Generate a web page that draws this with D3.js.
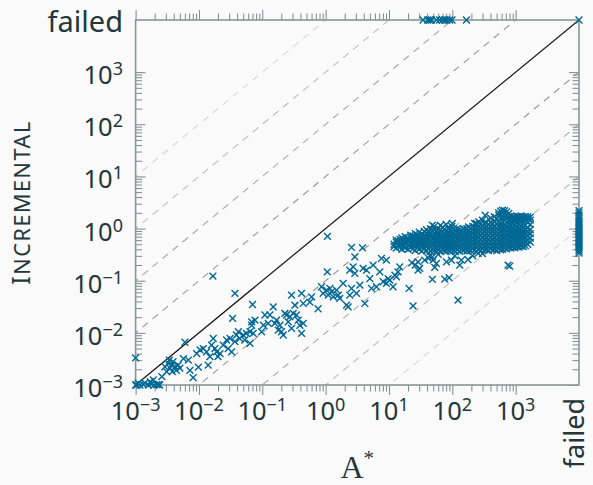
<!DOCTYPE html>
<html><head><meta charset="utf-8">
<script src="https://cdn.jsdelivr.net/npm/d3@7"></script>
<style>
html,body{margin:0;padding:0;background:#fafafa;}
svg{display:block;}
</style></head><body>
<svg id="chart" width="593" height="485"></svg>
<script>
// ---------- data ----------
const FAILED = "failed";
const majorTicks = [1e-3, 1e-2, 1e-1, 1, 10, 100, 1000];
const tickExponents = ["−3", "−2", "−1", "0", "1", "2", "3"];
const failLabel = "failed";
const xLabelBase = "A", xLabelSup = "*";
const yLabelFirst = "I", yLabelRest = "NCREMENTAL";
const guideFactors = [1e-4, 1e-3, 1e-2, 1e-1, 10, 100, 1000, 1e4];

// [A* time, Incremental time] for instances solved by both
const solvedPoints = [
  [0.001,0.001],[0.00104,0.001],[0.00117,0.001],[0.00132,0.00102],[0.00159,0.001],[0.0018,0.00105],[0.00195,0.001],
  [0.00215,0.00102],[0.0024,0.001],[0.0017,0.00116],[0.0019,0.00125],[0.0023,0.00102],[0.0026,0.00145],[0.0011,0.00108],
  [0.0014,0.0011],[0.001,0.0033],
  [0.0029,0.00224],[0.0033,0.0026],[0.0035,0.0021],[0.0037,0.0024],[0.0039,0.0028],[0.0042,0.00224],[0.0044,0.0019],
  [0.0047,0.0024],[0.005,0.0021],[0.0038,0.0018],[0.0031,0.0018],[0.0034,0.003],[0.0057,0.0032],[0.0068,0.003],
  [0.0072,0.0019],[0.0098,0.0022],[0.0092,0.004],[0.0104,0.0047],[0.0117,0.005],[0.0132,0.0043],[0.014,0.0024],
  [0.0149,0.0035],[0.0158,0.0058],[0.0168,0.0078],[0.0179,0.005],[0.019,0.0043],[0.02,0.0035],[0.0215,0.004],
  [0.0242,0.0058],[0.0273,0.0073],[0.029,0.005],[0.031,0.0078],[0.0328,0.0043],[0.037,0.0068],[0.039,0.0091],
  [0.042,0.0105],[0.044,0.0078],[0.05,0.0091],[0.053,0.0073],[0.056,0.0098],[0.064,0.0105],[0.068,0.014],
  [0.064,0.0063],[0.072,0.0098],[0.0766,0.0176],[0.068,0.0163],[0.0975,0.0105],[0.104,0.014],[0.11,0.022],
  [0.124,0.0152],[0.132,0.022],[0.149,0.0316],[0.158,0.0152],[0.168,0.0176],[0.179,0.0113],[0.19,0.014],
  [0.201,0.0105],[0.214,0.0091],[0.227,0.0236],[0.242,0.022],[0.257,0.0163],[0.273,0.0204],[0.29,0.0122],
  [0.308,0.0236],[0.327,0.034],[0.347,0.022],[0.369,0.0176],[0.392,0.014],[0.417,0.0098],[0.443,0.0152],
  [0.29,0.053],[0.417,0.057],[0.6,0.049],[0.443,0.0366],[0.564,0.039],[0.76,0.029],[0.86,0.0766],[0.914,0.057],
  [1.03,0.066],[1.1,0.053],[1.17,0.071],[1.24,0.061],[1.32,0.049],[1.49,0.066],[1.58,0.053],[1.67,0.046],
  [1.89,0.089],[2.14,0.034],[2.27,0.0316],[2.41,0.053],[2.56,0.071],[2.72,0.185],[2.41,0.16],[2.89,0.138],
  [3.07,0.057],[3.47,0.082],[3.91,0.172],[4.16,0.0366],[4.42,0.16],[4.99,0.11],[5.3,0.071],[5.62,0.199],
  [6.35,0.0766],[7.16,0.148],[7.6,0.267],[9.1,0.248],[8.1,0.0955],[9.1,0.089],[9.7,0.11],[10.3,0.103],
  [11.6,0.0766],[12.4,0.128],[13.1,0.119],[13.9,0.148],[14.8,0.185],[1.06,0.148],[2.56,0.434],[3.82,0.427],
  [2.89,0.287],[20.8,0.071],
  [0.0166,0.122],[0.037,0.057],[1.07,0.71],[0.07,0.035],[0.034,0.019],[0.006,0.0066],[0.0081,0.00138],
  [28.8,0.16],[30.6,0.172],[28.8,0.23],[36.7,0.248],[48.5,0.287],[49.7,0.248],[52.8,0.18],[56,0.214],
  [80.7,0.23],[96.8,0.248],[139,0.248],[177,0.255],[255,0.333],[131,0.199],[48.5,0.106],[76,0.107],
  [89,0.114],[123,0.0425],[757,0.199],[805,0.19],[24,0.033],[26,0.2],[23,0.22],[44,0.3],[42,0.27],
  [60,0.32],[110,0.3],[210,0.3],[300,0.33],[48.5,1.16],[100,1.25],[240,1.25],[330,1.8]
];

// dense cluster: A* time and the Incremental times observed at it
const denseColumns = [
  [12,[0.45,0.5]],[13,[0.42,0.55,0.6]],[14,[0.48,0.58]],[15,[0.44,0.52,0.62]],[16,[0.4,0.5,0.57,0.66]],
  [17,[0.46,0.55,0.62]],[18,[0.42,0.52,0.6,0.7]],[20,[0.4,0.47,0.56,0.65]],[22,[0.44,0.5,0.6,0.68,0.75]],
  [24,[0.41,0.48,0.55,0.63,0.72]],[26,[0.38,0.46,0.52,0.6,0.7,0.8]],[28,[0.43,0.5,0.58,0.66,0.76]],
  [30,[0.4,0.47,0.55,0.62,0.72,0.85]],[33,[0.37,0.44,0.51,0.6,0.68,0.78]],[36,[0.42,0.49,0.56,0.65,0.74,0.88]],
  [39,[0.38,0.46,0.53,0.62,0.7,0.8,0.95]],[42,[0.41,0.48,0.57,0.66,0.76,0.86]],
  [45,[0.37,0.45,0.52,0.6,0.7,0.82,1.0]],[48,[0.4,0.47,0.55,0.64,0.73,0.9]],
  [52,[0.38,0.44,0.51,0.59,0.68,0.79,0.95,1.1]],[56,[0.36,0.42,0.49,0.56,0.65,0.75,0.86]],
  [60,[0.39,0.46,0.53,0.62,0.72,0.84,1.0]],[65,[0.37,0.43,0.5,0.58,0.67,0.78,0.92,1.15]],
  [70,[0.4,0.47,0.55,0.64,0.74,0.87,1.05]],[75,[0.38,0.45,0.52,0.6,0.7,0.82,0.97]],
  [80,[0.36,0.42,0.49,0.57,0.66,0.77,0.9,1.2]],[86,[0.39,0.46,0.54,0.63,0.73,0.85,1.02]],
  [92,[0.37,0.44,0.51,0.59,0.69,0.8,0.94]],[98,[0.4,0.47,0.55,0.64,0.75,0.88,1.1]],
  [105,[0.38,0.45,0.52,0.61,0.71,0.83,0.98]],[112,[0.36,0.43,0.5,0.58,0.67,0.78,0.92]],
  [120,[0.39,0.46,0.54,0.63,0.73,0.86,1.0]],[130,[0.37,0.44,0.51,0.6,0.7,0.82,0.96]],
  [140,[0.4,0.47,0.55,0.65,0.76,0.89]],[150,[0.38,0.45,0.53,0.62,0.72,0.85,1.0]],
  [160,[0.41,0.48,0.57,0.67,0.79,0.93]],[170,[0.37,0.44,0.52,0.61,0.71,0.84,1.0]],
  [180,[0.4,0.47,0.55,0.65,0.77,0.9,1.08]],[195,[0.38,0.45,0.53,0.62,0.73,0.86,1.02]],
  [210,[0.41,0.48,0.57,0.67,0.79,0.93,1.1]],[225,[0.39,0.46,0.54,0.64,0.75,0.88,1.04,1.25]],
  [240,[0.37,0.44,0.52,0.61,0.72,0.85,1.0,1.18]],[260,[0.4,0.47,0.56,0.66,0.78,0.92,1.08,1.35]],
  [280,[0.38,0.45,0.53,0.63,0.74,0.87,1.03,1.22]],[300,[0.41,0.48,0.57,0.67,0.79,0.93,1.1,1.45]],
  [320,[0.39,0.46,0.54,0.64,0.75,0.88,1.04,1.25]],[345,[0.4,0.47,0.56,0.66,0.78,0.92,1.08,1.3]],
  [370,[0.38,0.45,0.53,0.63,0.74,0.87,1.02,1.2]],[400,[0.41,0.48,0.57,0.67,0.79,0.93,1.1,1.32,1.6]],
  [430,[0.39,0.46,0.54,0.64,0.75,0.88,1.04,1.24]],[460,[0.4,0.47,0.56,0.66,0.78,0.92,1.09,1.4,1.7]],
  [500,[0.38,0.45,0.53,0.63,0.74,0.87,1.02,1.2,1.55]],[540,[0.41,0.48,0.57,0.67,0.79,0.93,1.1,1.3,1.8,2.0]],
  [580,[0.39,0.46,0.55,0.65,0.76,0.9,1.06,1.25,1.6,1.9,2.15]],
  [620,[0.4,0.47,0.56,0.66,0.78,0.92,1.09,1.35,1.75,2.0,2.25]],
  [670,[0.42,0.5,0.59,0.7,0.82,0.97,1.15,1.45,1.9,2.2]],
  [720,[0.41,0.48,0.57,0.68,0.8,0.95,1.12,1.35,1.55,2.1]],
  [780,[0.43,0.51,0.6,0.71,0.84,1.0,1.2,1.4,1.7,1.95]],[840,[0.42,0.49,0.58,0.69,0.82,0.97,1.15,1.5,1.75]],
  [900,[0.44,0.52,0.62,0.73,0.86,1.02,1.25,1.45,1.7]],[970,[0.43,0.5,0.6,0.71,0.84,0.99,1.18,1.4,1.65]],
  [1050,[0.45,0.54,0.64,0.76,0.9,1.06,1.3,1.55,1.7]],[1130,[0.44,0.52,0.62,0.74,0.87,1.03,1.25,1.5,1.7]],
  [1220,[0.46,0.55,0.66,0.78,0.92,1.1,1.35,1.6,1.75]],[1320,[0.45,0.54,0.65,0.77,0.91,1.08,1.4,1.65]],
  [1420,[0.47,0.57,0.68,0.8,0.95,1.15,1.45,1.7]],[1550,[0.5,0.6,0.72,0.86,1.02,1.3,1.55,1.7]],
  [1700,[0.55,0.66,0.8,0.95,1.2,1.45,1.65]]
];

// Incremental failed: A* times
const incrementalFailedAstarTimes = [34.5, 41, 44, 47, 56, 63, 70, 76, 82, 91, 99, 167];
// A* failed: Incremental times
const astarFailedIncrementalTimes = [0.34,0.37,0.4,0.43,0.46,0.5,0.54,0.58,0.62,0.67,0.72,0.78,0.84,0.9,
  0.97,1.05,1.13,1.22,1.32,1.45,1.6,1.8,2.0,2.2];
const bothFailedCount = 1;

// ---------- layout ----------
const W = 593, H = 485;
const FAIL_POS = 1e4;          // axis position used for "failed"
const pos = v => v === FAILED ? FAIL_POS : v;
const x = d3.scaleLog().domain([1e-3, FAIL_POS]).range([135.6, 579]);
const y = d3.scaleLog().domain([1e-3, FAIL_POS]).range([385, 20]);
const textColor = "#23373b";
const frameColor = "#8a9697";
const tickColor = "#7c898b";
const markColor = "#006894";
const FONT = "'Noto Sans', 'Open Sans', sans-serif";

const svg = d3.select("#chart");
svg.append("rect").attr("width", W).attr("height", H).attr("fill", "#fafafa");

const x0 = x.range()[0], x1 = x.range()[1], y0 = y.range()[0], y1 = y.range()[1];

svg.append("defs").append("clipPath").attr("id", "plotclip")
  .append("rect").attr("x", x0).attr("y", y1).attr("width", x1 - x0).attr("height", y0 - y1);

// guide diagonals
const guideColor = {1: "#999999", 2: "#a8a8a8", 3: "#bcbcbc", 4: "#d6d6d6"};
const gGuides = svg.append("g").attr("clip-path", "url(#plotclip)");
guideFactors.forEach(f => {
  const k = Math.round(Math.abs(Math.log10(f)));
  gGuides.append("line")
    .attr("x1", x(1e-3 / 10)).attr("y1", y(f * 1e-3 / 10))
    .attr("x2", x(FAIL_POS * 10)).attr("y2", y(f * FAIL_POS * 10))
    .attr("stroke", guideColor[k]).attr("stroke-width", 1.1)
    .attr("stroke-dasharray", "7,6");
});
// y = x
gGuides.append("line")
  .attr("x1", x(1e-3)).attr("y1", y(1e-3)).attr("x2", x(FAIL_POS)).attr("y2", y(FAIL_POS))
  .attr("stroke", "#111").attr("stroke-width", 1.2);

// ticks via d3 axes (inward)
const minorTicks = [];
for (let e = -3; e <= 2; e++) for (let d = 2; d <= 9; d++) minorTicks.push(d * Math.pow(10, e));
function drawAxis(axisFn, scale, vals, size, tx, ty) {
  const g = svg.append("g").attr("transform", `translate(${tx},${ty})`)
    .call(axisFn(scale).tickValues(vals).tickSizeInner(size).tickSizeOuter(0).tickFormat(""));
  g.select(".domain").remove();
  g.selectAll(".tick line").attr("stroke", tickColor).attr("stroke-width", 1);
}
[[majorTicks, -10], [minorTicks, -6.5]].forEach(([vals, s]) => {
  drawAxis(d3.axisLeft, y, vals, s, x0, 0);
  drawAxis(d3.axisRight, y, vals, s, x1, 0);
  drawAxis(d3.axisBottom, x, vals, s, 0, y1);
  drawAxis(d3.axisTop, x, vals, s, 0, y0);
});

// frame
svg.append("rect").attr("x", x0).attr("y", y1).attr("width", x1 - x0).attr("height", y0 - y1)
  .attr("fill", "none").attr("stroke", frameColor).attr("stroke-width", 1.6);

// markers
const cross = "M-3.4,-3.4L3.4,3.4M-3.4,3.4L3.4,-3.4";
const allPoints = [];
solvedPoints.forEach(p => allPoints.push(p));
denseColumns.forEach(([ax, ys]) => ys.forEach(iv => allPoints.push([ax, iv])));
incrementalFailedAstarTimes.forEach(v => allPoints.push([v, FAILED]));
astarFailedIncrementalTimes.forEach(v => allPoints.push([FAILED, v]));
for (let i = 0; i < bothFailedCount; i++) allPoints.push([FAILED, FAILED]);

svg.append("g").selectAll("path").data(allPoints).join("path")
  .attr("d", cross)
  .attr("transform", d => `translate(${x(pos(d[0]))},${y(pos(d[1]))})`)
  .attr("fill", "none").attr("stroke", markColor).attr("stroke-width", 1.4);

// tick labels
function powLabel(sel, exp) {
  sel.append("tspan").text("10");
  sel.append("tspan").attr("font-size", 18).attr("dy", -9).text(exp);
}
majorTicks.forEach((v, i) => {
  const t = svg.append("text").attr("x", 123).attr("y", y(v) + 12)
    .attr("text-anchor", "end").attr("font-family", FONT).attr("font-size", 25.5).attr("fill", textColor);
  powLabel(t, tickExponents[i]);
  const tb = svg.append("text").attr("x", x(v)).attr("y", 420)
    .attr("text-anchor", "middle").attr("font-family", FONT).attr("font-size", 25.5).attr("fill", textColor);
  powLabel(tb, tickExponents[i]);
});
svg.append("text").attr("x", 123).attr("y", y(FAIL_POS) + 11.5).attr("text-anchor", "end")
  .attr("font-family", FONT).attr("font-size", 29).attr("fill", textColor).text(failLabel);
svg.append("text").attr("transform", `translate(${x(FAIL_POS) + 5},398) rotate(-90)`)
  .attr("text-anchor", "end")
  .attr("font-family", FONT).attr("font-size", 27).attr("fill", textColor).text(failLabel);

// axis titles
const yl = svg.append("text").attr("transform", `translate(30,${(y0 + y1) / 2}) rotate(-90)`)
  .attr("text-anchor", "middle").attr("font-family", FONT).attr("fill", textColor)
  .attr("letter-spacing", 1.6);
yl.append("tspan").attr("font-size", 25).text(yLabelFirst);
yl.append("tspan").attr("font-size", 21.5).text(yLabelRest);

const xl = svg.append("text").attr("x", (x0 + x1) / 2).attr("y", 478).attr("text-anchor", "middle")
  .attr("font-family", "'Liberation Serif', 'DejaVu Serif', serif").attr("fill", textColor);
xl.append("tspan").attr("font-size", 32).text(xLabelBase);
xl.append("tspan").attr("font-size", 21).attr("dy", -13).text(xLabelSup);
</script>
</body></html>
